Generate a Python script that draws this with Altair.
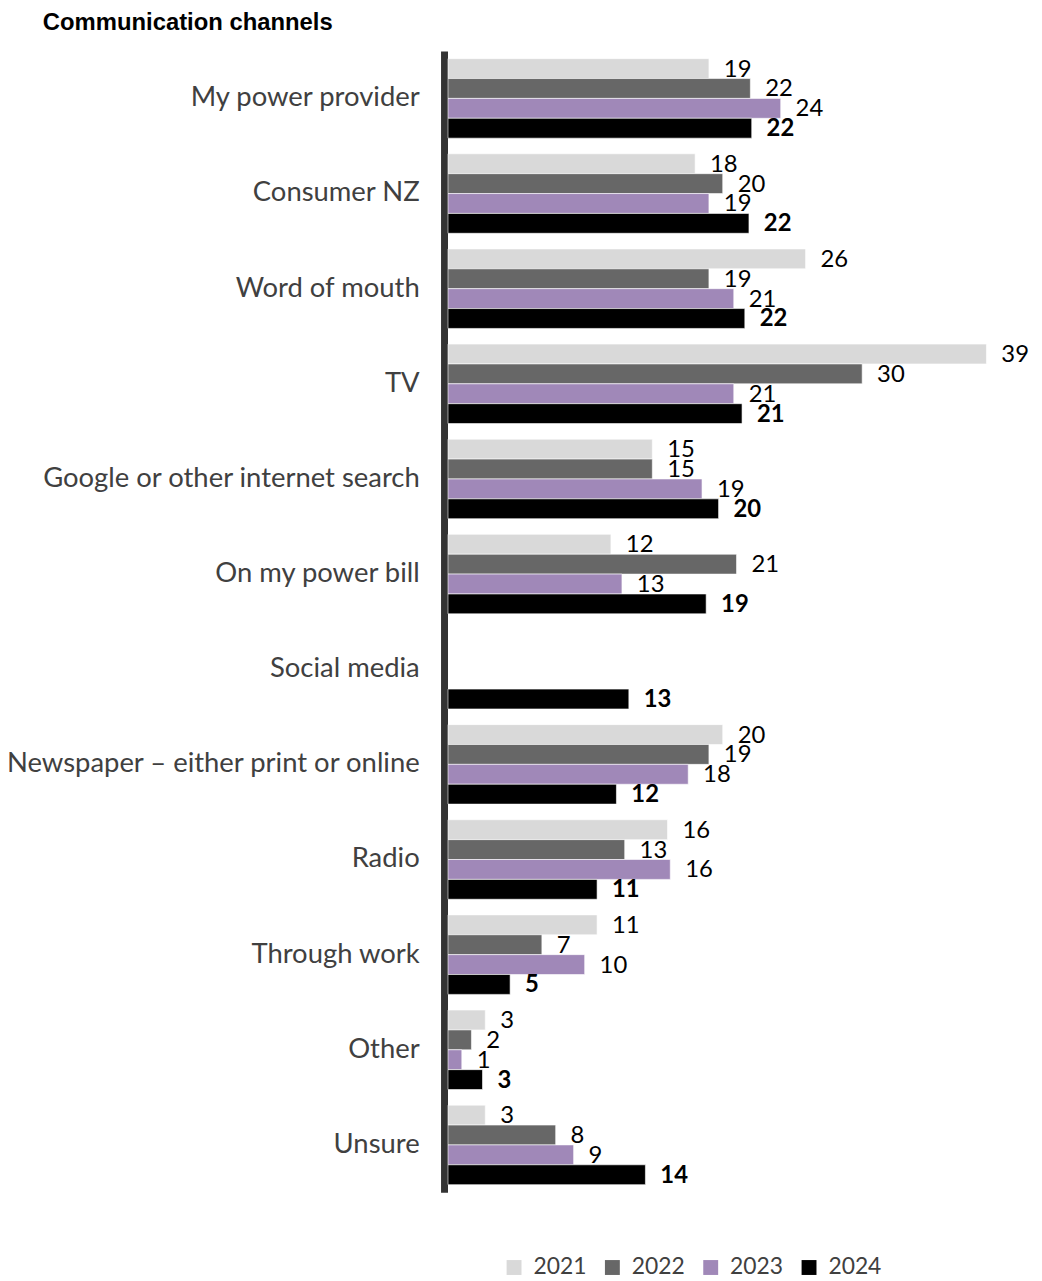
import altair as alt
import pandas as pd

categories = [
    "My power provider",
    "Consumer NZ",
    "Word of mouth",
    "TV",
    "Google or other internet search",
    "On my power bill",
    "Social media",
    "Newspaper – either print or online",
    "Radio",
    "Through work",
    "Other",
    "Unsure",
]
years = ["2021", "2022", "2023", "2024"]

# bar lengths
v2021 = [18.9, 17.9, 25.9, 39.0, 14.8, 11.8, None, 19.9, 15.9, 10.8, 2.7, 2.7]
v2022 = [21.9, 19.9, 18.9, 30.0, 14.8, 20.9, None, 18.9, 12.8, 6.8, 1.7, 7.8]
v2023 = [24.1, 18.9, 20.7, 20.7, 18.4, 12.6, None, 17.4, 16.1, 9.9, 1.0, 9.1]
v2024 = [22.0, 21.8, 21.5, 21.3, 19.6, 18.7, 13.1, 12.2, 10.8, 4.5, 2.5, 14.3]

# data labels as printed
l2021 = [19, 18, 26, 39, 15, 12, None, 20, 16, 11, 3, 3]
l2022 = [22, 20, 19, 30, 15, 21, None, 19, 13, 7, 2, 8]
l2023 = [24, 19, 21, 21, 19, 13, None, 18, 16, 10, 1, 9]
l2024 = [22, 22, 22, 21, 20, 19, 13, 12, 11, 5, 3, 14]

colors = ["#d9d9d9", "#676767", "#a088b8", "#000000"]

rows = []
for yr, vals, labs in zip(years, [v2021, v2022, v2023, v2024], [l2021, l2022, l2023, l2024]):
    for cat, v, l in zip(categories, vals, labs):
        if v is None:
            continue
        rows.append({"category": cat, "year": yr, "value": v, "label": str(l),
                     "bold": "b" if yr == "2024" else "n"})
df = pd.DataFrame(rows)

y_enc = alt.Y(
    "category:N",
    sort=categories,
    scale=alt.Scale(paddingInner=0.1645, paddingOuter=0.08),
    axis=alt.Axis(
        title=None, ticks=False, labelPadding=25, offset=4,
        domainWidth=7, domainColor="#333333",
        labelFont="Lato", labelFontSize=27.6, labelColor="#404040", labelLimit=0,
    ),
)
yoff = alt.YOffset("year:N", sort=years, scale=alt.Scale(paddingInner=0, paddingOuter=0))
x_enc = alt.X("value:Q", scale=alt.Scale(domain=[0, 40], nice=False), axis=None)

bars = alt.Chart(df).mark_bar(stroke="white", strokeWidth=0.6).encode(
    y=y_enc,
    yOffset=yoff,
    x=x_enc,
    color=alt.Color(
        "year:N",
        scale=alt.Scale(domain=years, range=colors),
        legend=alt.Legend(
            title=None, orient="none", legendX=55, legendY=1213,
            direction="horizontal", symbolType="square", symbolSize=225,
            symbolStrokeWidth=0, labelFont="Lato", labelFontSize=23,
            labelColor="#404040", labelOffset=8, columnPadding=14,
        ),
    ),
)

labels_n = alt.Chart(df[df["bold"] == "n"]).mark_text(
    align="left", baseline="middle", dx=15, dy=1, font="Lato", fontSize=24, color="#000000"
).encode(y=y_enc, yOffset=yoff, x=x_enc, text="label:N")

labels_b = alt.Chart(df[df["bold"] == "b"]).mark_text(
    align="left", baseline="middle", dx=15, dy=1, font="Lato", fontSize=24,
    fontWeight="bold", color="#000000"
).encode(y=y_enc, yOffset=yoff, x=x_enc, text="label:N")

chart = alt.layer(bars, labels_n, labels_b).properties(
    width=556,
    height=1149,
    title=alt.TitleParams(
        "Communication channels", anchor="start", frame="group", font="Liberation Sans",
        fontSize=24, fontWeight="bold", color="#000000", dx=-408, offset=16,
    ),
    autosize=alt.AutoSizeParams(type="none"),
    padding={"left": 443, "top": 39, "right": 34, "bottom": 88},
).configure_view(stroke=None)

chart.save("out.html", embed_options={"renderer": "svg", "actions": False})
